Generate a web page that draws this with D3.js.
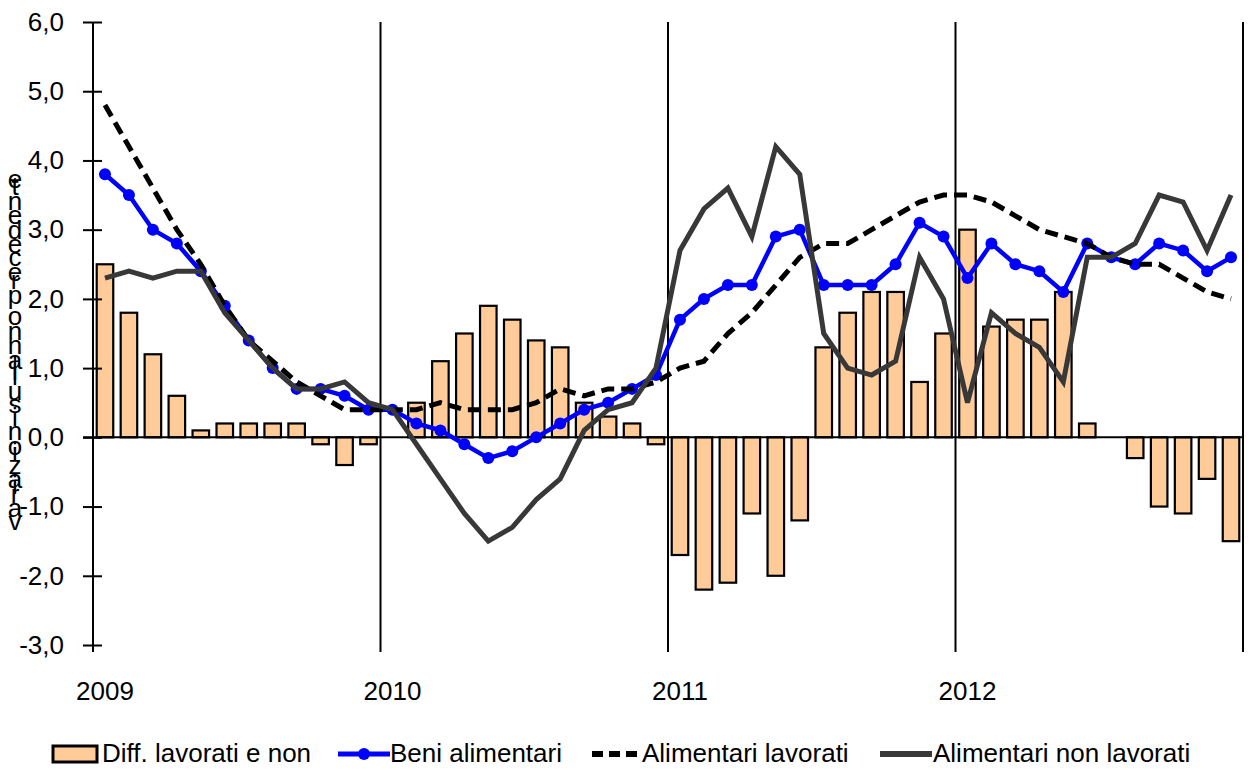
<!DOCTYPE html>
<html>
<head>
<meta charset="utf-8">
<script src="https://cdn.jsdelivr.net/npm/d3@7"></script>
<style>
  body { margin: 0; background: #fff; }
  svg { display: block; font-family: "Liberation Sans", Arial, sans-serif; }
</style>
</head>
<body>
<svg id="chart" width="1249" height="770"></svg>
<script>
// monthly data, Jan 2009 - Dec 2012
const years = ["2009", "2010", "2011", "2012"];
const yTicks = [-3, -2, -1, 0, 1, 2, 3, 4, 5, 6];

const diffLavorati = [
  2.5, 1.8, 1.2, 0.6, 0.1, 0.2, 0.2, 0.2, 0.2, -0.1, -0.4, -0.1,
  0.0, 0.5, 1.1, 1.5, 1.9, 1.7, 1.4, 1.3, 0.5, 0.3, 0.2, -0.1,
  -1.7, -2.2, -2.1, -1.1, -2.0, -1.2, 1.3, 1.8, 2.1, 2.1, 0.8, 1.5,
  3.0, 1.6, 1.7, 1.7, 2.1, 0.2, 0.0, -0.3, -1.0, -1.1, -0.6, -1.5
];
const beniAlimentari = [
  3.8, 3.5, 3.0, 2.8, 2.4, 1.9, 1.4, 1.0, 0.7, 0.7, 0.6, 0.4,
  0.4, 0.2, 0.1, -0.1, -0.3, -0.2, 0.0, 0.2, 0.4, 0.5, 0.7, 0.9,
  1.7, 2.0, 2.2, 2.2, 2.9, 3.0, 2.2, 2.2, 2.2, 2.5, 3.1, 2.9,
  2.3, 2.8, 2.5, 2.4, 2.1, 2.8, 2.6, 2.5, 2.8, 2.7, 2.4, 2.6
];
const alimLavorati = [
  4.8, 4.2, 3.6, 3.0, 2.5, 1.9, 1.4, 1.1, 0.8, 0.6, 0.4, 0.4,
  0.4, 0.4, 0.5, 0.4, 0.4, 0.4, 0.5, 0.7, 0.6, 0.7, 0.7, 0.8,
  1.0, 1.1, 1.5, 1.8, 2.2, 2.6, 2.8, 2.8, 3.0, 3.2, 3.4, 3.5,
  3.5, 3.4, 3.2, 3.0, 2.9, 2.8, 2.6, 2.5, 2.5, 2.3, 2.1, 2.0
];
const alimNonLavorati = [
  2.3, 2.4, 2.3, 2.4, 2.4, 1.8, 1.4, 1.0, 0.7, 0.7, 0.8, 0.5,
  0.4, -0.1, -0.6, -1.1, -1.5, -1.3, -0.9, -0.6, 0.1, 0.4, 0.5, 1.0,
  2.7, 3.3, 3.6, 2.9, 4.2, 3.8, 1.5, 1.0, 0.9, 1.1, 2.6, 2.0,
  0.5, 1.8, 1.5, 1.3, 0.8, 2.6, 2.6, 2.8, 3.5, 3.4, 2.7, 3.5
];
const yLabel = "variazioni sull'anno precedente";

const svg = d3.select("#chart");
const months = d3.range(diffLavorati.length);

const x = d3.scaleBand()
  .domain(months)
  .range([93, 1243])
  .paddingInner(0.31)
  .paddingOuter(0.155);

const y = d3.scaleLinear()
  .domain([-3, 6])
  .range([645, 22]);

const cx = i => x(i) + x.bandwidth() / 2;

// bars
svg.append("g")
  .selectAll("rect")
  .data(months.filter(i => diffLavorati[i] !== 0))
  .enter()
  .append("rect")
  .attr("x", i => x(i))
  .attr("width", x.bandwidth())
  .attr("y", i => y(Math.max(0, diffLavorati[i])))
  .attr("height", i => Math.abs(y(diffLavorati[i]) - y(0)))
  .attr("fill", "#FFCC99")
  .attr("stroke", "#000")
  .attr("stroke-width", 2.2);

// year separators (and the left axis line)
const yearEdges = d3.range(0, 49, 12).map(i => x.range()[0] + x.step() * i);
svg.append("g")
  .selectAll("line")
  .data(yearEdges)
  .enter()
  .append("line")
  .attr("x1", d => d).attr("x2", d => d)
  .attr("y1", y(6)).attr("y2", 652)
  .attr("stroke", "#000")
  .attr("stroke-width", 2);

// zero line
svg.append("line")
  .attr("x1", 83).attr("x2", 1243)
  .attr("y1", y(0)).attr("y2", y(0))
  .attr("stroke", "#000")
  .attr("stroke-width", 2);

// y axis
const yAxis = svg.append("g")
  .attr("transform", "translate(93,0)")
  .call(d3.axisLeft(y)
    .tickValues(yTicks)
    .tickSize(10)
    .tickPadding(19)
    .tickFormat(d => d.toFixed(1).replace(".", ",")));
yAxis.select(".domain").remove();
yAxis.selectAll(".tick line")
  .attr("x1", 9)
  .attr("stroke-width", 2);
yAxis.selectAll(".tick text")
  .attr("font-size", 26)
  .attr("fill", "#000")
  .attr("font-family", "Liberation Sans, Arial, sans-serif");

// year labels
svg.append("g")
  .selectAll("text")
  .data(years)
  .enter()
  .append("text")
  .attr("x", (d, k) => cx(k * 12))
  .attr("y", 700)
  .attr("text-anchor", "middle")
  .attr("font-size", 26)
  .text(d => d);

// lines
const line = data => d3.line()
  .x((d, i) => cx(i))
  .y(d => y(d))(data);

svg.append("path")
  .attr("d", line(beniAlimentari))
  .attr("fill", "none")
  .attr("stroke", "#0000FF")
  .attr("stroke-width", 4.5);

svg.append("g")
  .selectAll("circle")
  .data(beniAlimentari)
  .enter()
  .append("circle")
  .attr("cx", (d, i) => cx(i))
  .attr("cy", d => y(d))
  .attr("r", 6)
  .attr("fill", "#0000FF");

svg.append("path")
  .attr("d", line(alimLavorati))
  .attr("fill", "none")
  .attr("stroke", "#000")
  .attr("stroke-width", 5)
  .attr("stroke-dasharray", "13,7");

svg.append("path")
  .attr("d", line(alimNonLavorati))
  .attr("fill", "none")
  .attr("stroke", "#383838")
  .attr("stroke-width", 5)
  .attr("stroke-linejoin", "miter");

// y label: upright glyphs stacked along a vertical baseline
const labelG = svg.append("g").attr("font-size", 26).attr("fill", "#000");
let pos = 530;
yLabel.split("").forEach(ch => {
  const t = labelG.append("text")
    .attr("x", 15)
    .attr("y", pos)
    .attr("text-anchor", "middle")
    .text(ch === " " ? "\u00a0" : ch);
  pos -= t.node().getComputedTextLength();
});

// legend
const legend = svg.append("g").attr("font-size", 26);
legend.append("rect")
  .attr("x", 53).attr("y", 746)
  .attr("width", 44).attr("height", 16)
  .attr("fill", "#FFCC99")
  .attr("stroke", "#000")
  .attr("stroke-width", 3);
legend.append("text").attr("x", 102).attr("y", 762).text("Diff. lavorati e non");

legend.append("line")
  .attr("x1", 338).attr("x2", 390).attr("y1", 754).attr("y2", 754)
  .attr("stroke", "#0000FF").attr("stroke-width", 5);
legend.append("circle")
  .attr("cx", 364).attr("cy", 754).attr("r", 6)
  .attr("fill", "#0000FF");
legend.append("text").attr("x", 390).attr("y", 762).text("Beni alimentari");

legend.append("line")
  .attr("x1", 592).attr("x2", 642).attr("y1", 754).attr("y2", 754)
  .attr("stroke", "#000").attr("stroke-width", 6)
  .attr("stroke-dasharray", "11,6");
legend.append("text").attr("x", 642).attr("y", 762).text("Alimentari lavorati");

legend.append("line")
  .attr("x1", 880).attr("x2", 932).attr("y1", 754).attr("y2", 754)
  .attr("stroke", "#383838").attr("stroke-width", 6);
legend.append("text").attr("x", 933).attr("y", 762).text("Alimentari non lavorati");
</script>
</body>
</html>
